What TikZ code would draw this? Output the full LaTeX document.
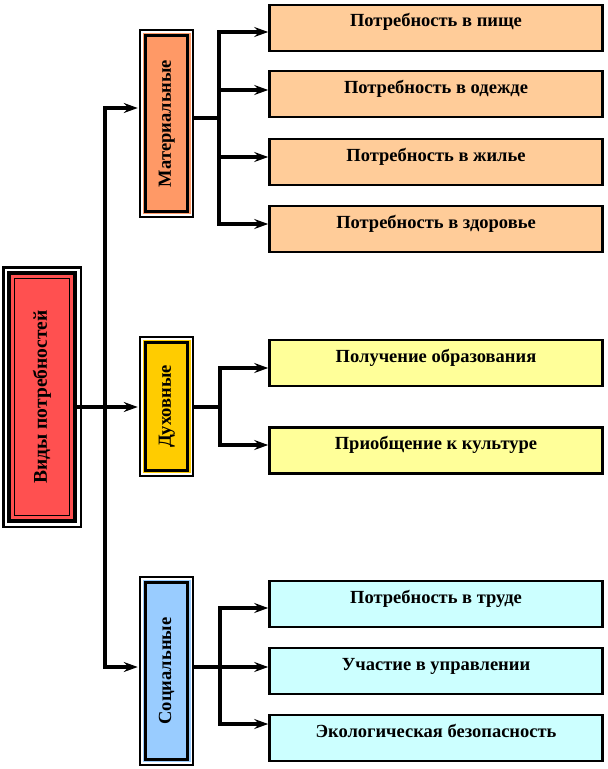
\documentclass[tikz,border=0pt]{standalone}
\usepackage{fontspec}
\setmainfont{Liberation Serif}
\usepackage{xcolor}
\usetikzlibrary{arrows.meta}

\definecolor{rootred}{HTML}{FF5050}
\definecolor{matorange}{HTML}{FF9966}
\definecolor{matpeach}{HTML}{FFCC99}
\definecolor{dukhgold}{HTML}{FFCC00}
\definecolor{dukhyellow}{HTML}{FFFF99}
\definecolor{socblue}{HTML}{99CCFF}
\definecolor{soccyan}{HTML}{CCFFFF}

\newcommand{\labelfont}{\bfseries\fontsize{18.5}{21}\selectfont}

\tikzset{
	need/.style={draw, fill=#1, line width=2.6pt, minimum width=333pt, inner sep=0pt,
		text height=22pt, text depth=24pt, font=\labelfont},
	kind/.style={draw, fill=#1, line width=2.5pt, minimum width=42pt, inner sep=0pt, font=\labelfont,
		preaction={draw=black, line width=13.4pt},
		preaction={draw=white, line width=9.4pt},
		preaction={draw=#1, line width=6pt}},
	root/.style={draw, fill=rootred, line width=1.8pt, minimum width=55pt, minimum height=237pt,
		inner sep=0pt, font=\bfseries\fontsize{19.5}{22}\selectfont,
		preaction={draw=black, line width=25pt},
		preaction={draw=white, line width=20pt},
		preaction={draw=black, line width=15.5pt},
		preaction={draw=rootred, line width=7.5pt}},
	wire/.style={line width=3.4pt, line cap=rect},
	arr/.style={line width=3.4pt, -{Stealth[length=14pt, width=10pt, inset=5pt]}}
}

\begin{document}
\begin{tikzpicture}[x=1pt, y=-1pt]
	\useasboundingbox (0,0) rectangle (608,769);

	\node[root] (vidy) at (42,397) {\rotatebox{90}{Виды потребностей}};

	\node[kind=matorange, minimum height=175.6pt] (mat) at (166.7,123.5) {\rotatebox{90}{Материальные}};
	\node[kind=dukhgold, minimum height=127.6pt] (dukh) at (166.7,406.5) {\rotatebox{90}{Духовные}};
	\node[kind=socblue, minimum height=176.6pt] (soc) at (166.7,671) {\rotatebox{90}{Социальные}};

	\node[need=matpeach] (pishcha) at (436,27.8) {Потребность в пище};
	\node[need=matpeach] (odezhda) at (436,94) {Потребность в одежде};
	\node[need=matpeach] (zhilye) at (436,162) {Потребность в жилье};
	\node[need=matpeach] (zdorovye) at (436,229) {Потребность в здоровье};

	\node[need=dukhyellow] (obraz) at (436,363) {Получение образования};
	\node[need=dukhyellow] (kultura) at (436,450.5) {Приобщение к культуре};

	\node[need=soccyan] (trud) at (436,604) {Потребность в труде};
	\node[need=soccyan] (upravl) at (436,671) {Участие в управлении};
	\node[need=soccyan] (ekolog) at (436,738) {Экологическая безопасность};

	\coordinate (t1) at (105,108);
	\coordinate (t2) at (105,407);
	\coordinate (t3) at (105,667);

	\coordinate (mb) at (219,118);
	\coordinate (m1) at (219,32);
	\coordinate (m2) at (219,90);
	\coordinate (m3) at (219,157);
	\coordinate (m4) at (219,224);

	\coordinate (db) at (220,407);
	\coordinate (d1) at (220,368);
	\coordinate (d2) at (220,445);

	\coordinate (s1) at (220,608);
	\coordinate (s2) at (220,667);
	\coordinate (s3) at (220,724);

	\draw[wire, shorten <=8pt] (vidy.east |- t2) -- (t2);
	\draw[wire] (t1) -- (t3);
	\draw[arr, shorten >=6.7pt] (t1) -- (t1 -| mat.west);
	\draw[arr, shorten >=6.7pt] (t2) -- (t2 -| dukh.west);
	\draw[arr, shorten >=6.7pt] (t3) -- (t3 -| soc.west);

	\draw[wire, shorten <=6.7pt] (mb -| mat.east) -- (mb);
	\draw[wire] (m1) -- (m4);
	\draw[arr] (m1) -- (m1 -| pishcha.west);
	\draw[arr] (m2) -- (m2 -| odezhda.west);
	\draw[arr] (m3) -- (m3 -| zhilye.west);
	\draw[arr] (m4) -- (m4 -| zdorovye.west);

	\draw[wire, shorten <=6.7pt] (db -| dukh.east) -- (db);
	\draw[wire] (d1) -- (d2);
	\draw[arr] (d1) -- (d1 -| obraz.west);
	\draw[arr] (d2) -- (d2 -| kultura.west);

	\draw[wire, shorten <=6.7pt] (s2 -| soc.east) -- (s2);
	\draw[wire] (s1) -- (s3);
	\draw[arr] (s1) -- (s1 -| trud.west);
	\draw[arr] (s2) -- (s2 -| upravl.west);
	\draw[arr] (s3) -- (s3 -| ekolog.west);
\end{tikzpicture}
\end{document}
